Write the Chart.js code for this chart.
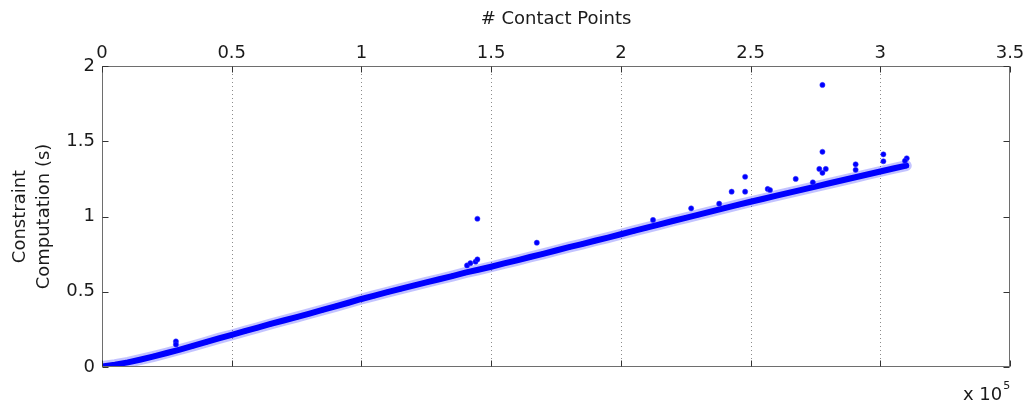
<!DOCTYPE html>
<html>
<head>
<meta charset="utf-8">
<script src="https://cdn.jsdelivr.net/npm/chart.js@4.4.1/dist/chart.umd.min.js"></script>
<style>
  html, body { margin: 0; padding: 0; background: #ffffff; }
  canvas { display: block; }
</style>
</head>
<body>
<canvas id="chart" width="1029" height="408"></canvas>
<script>
// Constraint computation time vs. number of contact points

// Main trend: contact points and time (s)
const bandX = [0, 5000, 10000, 15000, 20000, 25000, 30000, 35000, 40000, 45000,
  50000, 55000, 60000, 65000, 70000, 75000, 80000, 85000, 90000, 95000,
  100000, 105000, 110000, 115000, 120000, 125000, 130000, 135000, 140000, 145000,
  150000, 155000, 160000, 165000, 170000, 175000, 180000, 185000, 190000, 195000,
  200000, 205000, 210000, 215000, 220000, 225000, 230000, 235000, 240000, 245000,
  250000, 255000, 260000, 265000, 270000, 275000, 280000, 285000, 290000, 295000,
  300000, 305000, 310000];
const bandY = [0.003, 0.016, 0.031, 0.050, 0.071, 0.093, 0.116, 0.140, 0.165, 0.190,
  0.213, 0.238, 0.261, 0.286, 0.309, 0.331, 0.355, 0.379, 0.403, 0.427,
  0.452, 0.474, 0.497, 0.519, 0.541, 0.562, 0.583, 0.604, 0.627, 0.646,
  0.666, 0.688, 0.709, 0.731, 0.752, 0.774, 0.796, 0.817, 0.839, 0.860,
  0.882, 0.904, 0.926, 0.948, 0.970, 0.991, 1.012, 1.034, 1.056, 1.077,
  1.098, 1.118, 1.139, 1.159, 1.179, 1.199, 1.219, 1.239, 1.259, 1.279,
  1.299, 1.319, 1.338];

// Isolated slow frames
const outX = [28500, 28500, 140700, 142000, 144000, 144700, 144700, 167600, 212400,
  227100, 237900, 242700, 247900, 247900, 256600, 257500, 267400, 274000,
  277700, 277700, 276500, 279000, 277700, 290500, 290500, 301200, 301200,
  310200, 309500];
const outY = [0.170, 0.150, 0.675, 0.690, 0.700, 0.985, 0.715, 0.826, 0.977,
  1.054, 1.085, 1.165, 1.264, 1.165, 1.183, 1.176, 1.250, 1.227,
  1.874, 1.430, 1.316, 1.316, 1.290, 1.347, 1.310, 1.413, 1.367,
  1.387, 1.370];

// Axis ticks
const xTickValues = [0, 50000, 100000, 150000, 200000, 250000, 300000, 350000];
const yTickValues = [0, 0.5, 1, 1.5, 2];

const FONT = 'DejaVu Sans';
const TEXT = '#1a1a1a';
const BLUE = '#0000ff';

const pts = (xs, ys) => xs.map((x, i) => ({ x: x, y: ys[i] }));

// Box, inward tick marks, dotted grid and the exponent label
const framePlugin = {
  id: 'frame',
  beforeDatasetsDraw(chart) {
    const { ctx, chartArea: a, scales } = chart;
    ctx.save();
    ctx.strokeStyle = '#8c8c8c';
    ctx.lineWidth = 1;
    ctx.setLineDash([1, 3]);
    xTickValues.forEach(v => {
      if (v === 0 || v === 350000) return;
      const px = Math.round(scales.x.getPixelForValue(v)) + 0.5;
      ctx.beginPath();
      ctx.moveTo(px, a.top);
      ctx.lineTo(px, a.bottom);
      ctx.stroke();
    });
    ctx.restore();
  },
  afterDatasetsDraw(chart) {
    const { ctx, chartArea: a, scales } = chart;
    ctx.save();
    ctx.strokeStyle = '#6e6e6e';
    ctx.lineWidth = 1;
    const L = Math.round(a.left) + 0.5, R = Math.round(a.right) - 0.5;
    const T = Math.round(a.top) + 0.5, B = Math.round(a.bottom) - 0.5;
    ctx.strokeRect(L, T, R - L, B - T);
    ctx.strokeStyle = '#333333';
    const tl = 6;
    ctx.beginPath();
    xTickValues.forEach(v => {
      const px = Math.round(scales.x.getPixelForValue(v)) + 0.5;
      ctx.moveTo(px, T); ctx.lineTo(px, T + tl);
      ctx.moveTo(px, B); ctx.lineTo(px, B - tl);
    });
    yTickValues.forEach(v => {
      const py = Math.round(scales.y.getPixelForValue(v)) + 0.5;
      ctx.moveTo(L, py); ctx.lineTo(L + tl, py);
      ctx.moveTo(R, py); ctx.lineTo(R - tl, py);
    });
    ctx.stroke();

    // x 10^5 multiplier
    ctx.fillStyle = TEXT;
    ctx.textBaseline = 'middle';
    ctx.textAlign = 'left';
    ctx.font = '18px "' + FONT + '"';
    const base = 'x 10';
    const bx = a.right - 47;
    ctx.fillText(base, bx, a.bottom + 28);
    const w = ctx.measureText(base).width;
    ctx.font = '11px "' + FONT + '"';
    ctx.fillText('5', bx + w + 1, a.bottom + 19);
    ctx.restore();
  }
};

new Chart(document.getElementById('chart'), {
  type: 'scatter',
  data: {
    datasets: [
      {
        label: 'spread',
        data: pts(bandX, bandY),
        showLine: true,
        borderColor: 'rgba(40, 40, 255, 0.28)',
        borderWidth: 11,
        borderCapStyle: 'round',
        borderJoinStyle: 'round',
        pointRadius: 0,
        order: 3
      },
      {
        label: 'trend',
        data: pts(bandX, bandY),
        showLine: true,
        borderColor: BLUE,
        borderWidth: 6,
        borderCapStyle: 'round',
        borderJoinStyle: 'round',
        pointRadius: 2.5,
        pointBackgroundColor: BLUE,
        pointBorderWidth: 0,
        order: 2
      },
      {
        label: 'outliers',
        data: pts(outX, outY),
        pointRadius: 2.6,
        pointBackgroundColor: BLUE,
        pointBorderColor: 'rgba(60, 60, 255, 0.5)',
        pointBorderWidth: 1,
        order: 1
      }
    ]
  },
  options: {
    responsive: false,
    animation: false,
    devicePixelRatio: 1,
    layout: { padding: { left: 0, right: 19, top: 0, bottom: 41 } },
    plugins: { legend: { display: false }, tooltip: { enabled: false } },
    scales: {
      x: {
        type: 'linear',
        position: 'top',
        min: 0,
        max: 350000,
        afterBuildTicks: s => { s.ticks = xTickValues.map(v => ({ value: v })); },
        afterFit: s => { s.height = 66; },
        ticks: {
          callback: v => String(v / 100000),
          font: { family: FONT, size: 18 },
          color: TEXT,
          padding: 2,
          maxRotation: 0,
          autoSkip: false
        },
        grid: { display: false, drawTicks: false },
        border: { display: false },
        title: {
          display: true,
          text: '# Contact Points',
          font: { family: FONT, size: 18 },
          color: TEXT,
          padding: { top: 9, bottom: 0 }
        }
      },
      y: {
        type: 'linear',
        position: 'left',
        min: 0,
        max: 2,
        afterBuildTicks: s => { s.ticks = yTickValues.map(v => ({ value: v })); },
        afterFit: s => { s.width = 102; },
        ticks: {
          callback: v => String(v),
          font: { family: FONT, size: 18 },
          color: TEXT,
          padding: 7,
          autoSkip: false
        },
        grid: { display: false, drawTicks: false },
        border: { display: false },
        title: {
          display: true,
          text: ['Constraint', 'Computation (s)'],
          font: { family: FONT, size: 18, lineHeight: 1.3 },
          color: TEXT,
          padding: { top: 9, bottom: 0 }
        }
      }
    }
  },
  plugins: [framePlugin]
});
</script>
</body>
</html>
